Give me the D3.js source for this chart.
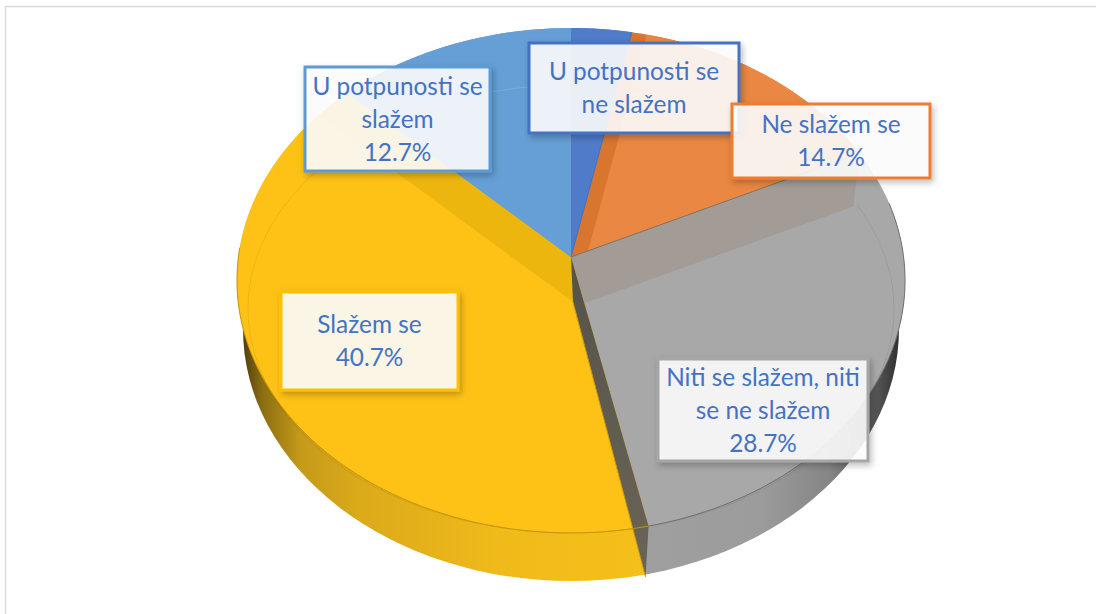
<!DOCTYPE html>
<html><head><meta charset="utf-8">
<script src="https://cdn.jsdelivr.net/npm/d3@7/dist/d3.min.js"></script>
<style>html,body{margin:0;padding:0;background:#fff;overflow:hidden}svg{display:block}</style>
</head><body><svg id="c" width="1096" height="614"></svg>
<script>
// ---- data ----
const categories = ["U potpunosti se ne slažem","Ne slažem se","Niti se slažem, niti se ne slažem","Slažem se","U potpunosti se slažem"];
const values = [3.2,14.7,28.7,40.7,12.7];
const labelLines = [["U potpunosti se","ne slažem"],["Ne slažem se","14.7%"],["Niti se slažem, niti","se ne slažem","28.7%"],["Slažem se","40.7%"],["U potpunosti se","slažem","12.7%"]];
// ---- style ----
const bandColors = ["#4f7bc8","#d8752f","#a8a8a8","#edb60e","#659fd5"];
const faceColors = ["#4f7bc8","#ea8742","#a8a8a8","#fec216","#659fd5"];
const borderColors = ["#4472c4","#ed7d31","#a5a5a5","#ffc000","#5b9bd5"];
const faceOffsets = [[0,0],[17,-6],[14,46],[2,45],[0,0]];
const labelBoxes = [[529,43,210,90],[732,104,198,74],[658,359,210,102],[281,292,177,98],[305,67,185,104]];
const drawOrder = [4,0,1,2,3];

const svg = d3.select("#c");
const defs = svg.append("defs");
// frame
svg.append("path").attr("d","M5.5 614V6.5H1096").attr("fill","none").attr("stroke","#d9d9d9").attr("stroke-width",1.5);

// projection of the tilted disc
const k = 0.093;
const sx = d3.scaleLinear().domain([-1,1]).range([571-332.6,571+332.6]);
const sy = d3.scaleLinear().domain([-1,1]).range([257+250.3,257-250.3]);
const project = a => { const u=Math.sin(a), v=Math.cos(a), w=1+k*v; return [sx(u/w), sy(v/w)]; };
const apex = [sx(0), sy(0)];
const arcs = d3.pie().sort(null).value(d=>d).startAngle(0).endAngle(2*Math.PI)(values);
const sample = (a0,a1,n=60) => d3.range(n+1).map(i=>a0+(a1-a0)*i/n);
const line = d3.line();

// side wall
const wallStops = [[241,"#4a3a0a"],[262,"#8b6d12"],[300,"#c49a18"],[360,"#dcaa1a"],[500,"#f0ba1a"],[645,"#f5c01a"],[646,"#9f9f9f"],[760,"#9c9c9c"],[830,"#858585"],[880,"#505050"],[900,"#2e2e2e"]];
const wallPos = d3.scaleLinear().domain([241,900]).range([0,1]);
const wg = defs.append("linearGradient").attr("id","wall").attr("gradientUnits","userSpaceOnUse").attr("x1",241).attr("x2",900).attr("y1",0).attr("y2",0);
wallStops.forEach(s=>wg.append("stop").attr("offset",wallPos(s[0])).attr("stop-color",s[1]));
svg.append("ellipse").attr("cx",571).attr("cy",329).attr("rx",328).attr("ry",252).attr("fill","url(#wall)");

// base slices
svg.selectAll("path.slice").data(arcs).join("path").attr("class","slice")
 .attr("d",d=>line([apex,...sample(d.startAngle,d.endAngle).map(project)])+"Z")
 .attr("fill",(d,i)=>bandColors[i]);

// faces: disc clipped by a wedge with parallel edges
arcs.forEach((d,i)=>{
  const f=[apex[0]+faceOffsets[i][0],apex[1]+faceOffsets[i][1]];
  const pts=sample(d.startAngle,d.endAngle,30).map(a=>{const p=project(a);return [f[0]+3*(p[0]-apex[0]),f[1]+3*(p[1]-apex[1])];});
  defs.append("clipPath").attr("id","w"+i).append("path").attr("d",line([f,...pts])+"Z");
  svg.append("path").attr("clip-path",`url(#w${i})`)
    .attr("d",line(d3.range(0,181).map(t=>project(t/180*2*Math.PI)))+"Z")
    .attr("fill",faceColors[i]);
  svg.append("ellipse").attr("clip-path",`url(#w${i})`).attr("cx",571).attr("cy",309).attr("rx",323).attr("ry",224)
    .attr("fill","none").attr("stroke",i===4?"rgba(255,255,255,.13)":"rgba(0,0,0,.07)").attr("stroke-width",1);
});

// warm bevel band on the grey slice, ending at the inner rim
{
  const p=project(arcs[2].startAngle), f=[apex[0]+faceOffsets[2][0],apex[1]+faceOffsets[2][1]];
  const c=[f[0]+0.93*(p[0]-apex[0]),f[1]+0.93*(p[1]-apex[1])];
  svg.append("path").attr("d",line([apex,p,c,f])+"Z").attr("fill","#a39b95");
}

// dark inner wall between the grey and yellow slices
const ga=arcs[3].startAngle, gp=project(ga);
const wallGrad = defs.append("linearGradient").attr("id","inner").attr("gradientUnits","userSpaceOnUse").attr("x1",0).attr("x2",0).attr("y1",257).attr("y2",577);
wallGrad.append("stop").attr("offset",0).attr("stop-color","#55524a");
wallGrad.append("stop").attr("offset",1).attr("stop-color","#6b6556");
svg.append("path").attr("d",line([apex,gp,[gp[0]-3,gp[1]+51],[apex[0]+2,apex[1]+45]])+"Z").attr("fill","url(#inner)");
svg.append("line").attr("x1",apex[0]+2).attr("y1",apex[1]+45).attr("x2",gp[0]-3).attr("y2",gp[1]+51).attr("stroke","#c79a12").attr("stroke-width",1);

// rim lines
const rimColors = [null,null,"#707070","#c4960e",null];
arcs.forEach((d,i)=>{ if(!rimColors[i])return;
  const a0=i===2?Math.max(d.startAngle,1.35):d.startAngle, a1=i===3?Math.min(d.endAngle,4.75):d.endAngle;
  svg.append("path").attr("d",line(sample(a0,a1).map(project))).attr("fill","none").attr("stroke",rimColors[i]).attr("stroke-width",1);
});
// slice edges
[1,2].forEach(i=>svg.append("path").attr("d",line([apex,project(arcs[i].startAngle)])).attr("stroke",i===2?"#7d7468":"#4a72b8").attr("stroke-width",1).attr("fill","none"));

// labels
const shadow = defs.append("filter").attr("id","sh").attr("x","-10%").attr("y","-10%").attr("width","120%").attr("height","125%");
shadow.append("feDropShadow").attr("dx",2).attr("dy",3).attr("stdDeviation",3).attr("flood-color","#000").attr("flood-opacity",.28);
drawOrder.forEach(i=>{
  const b=labelBoxes[i], g=svg.append("g");
  g.append("rect").attr("x",b[0]).attr("y",b[1]).attr("width",b[2]).attr("height",b[3])
   .attr("fill","#fff").attr("fill-opacity",.87).attr("stroke",borderColors[i]).attr("stroke-width",3).attr("filter","url(#sh)");
  const ls=labelLines[i], lh=33, cy=b[1]+b[3]/2;
  ls.forEach((t,j)=>g.append("text").attr("x",b[0]+b[2]/2).attr("y",cy+(j-(ls.length-1)/2)*lh+8.5)
    .attr("text-anchor","middle").attr("font-family","Lato, 'Open Sans', sans-serif").attr("font-size",24.4).attr("fill","#4472c4").text(t));
});
</script></body></html>
